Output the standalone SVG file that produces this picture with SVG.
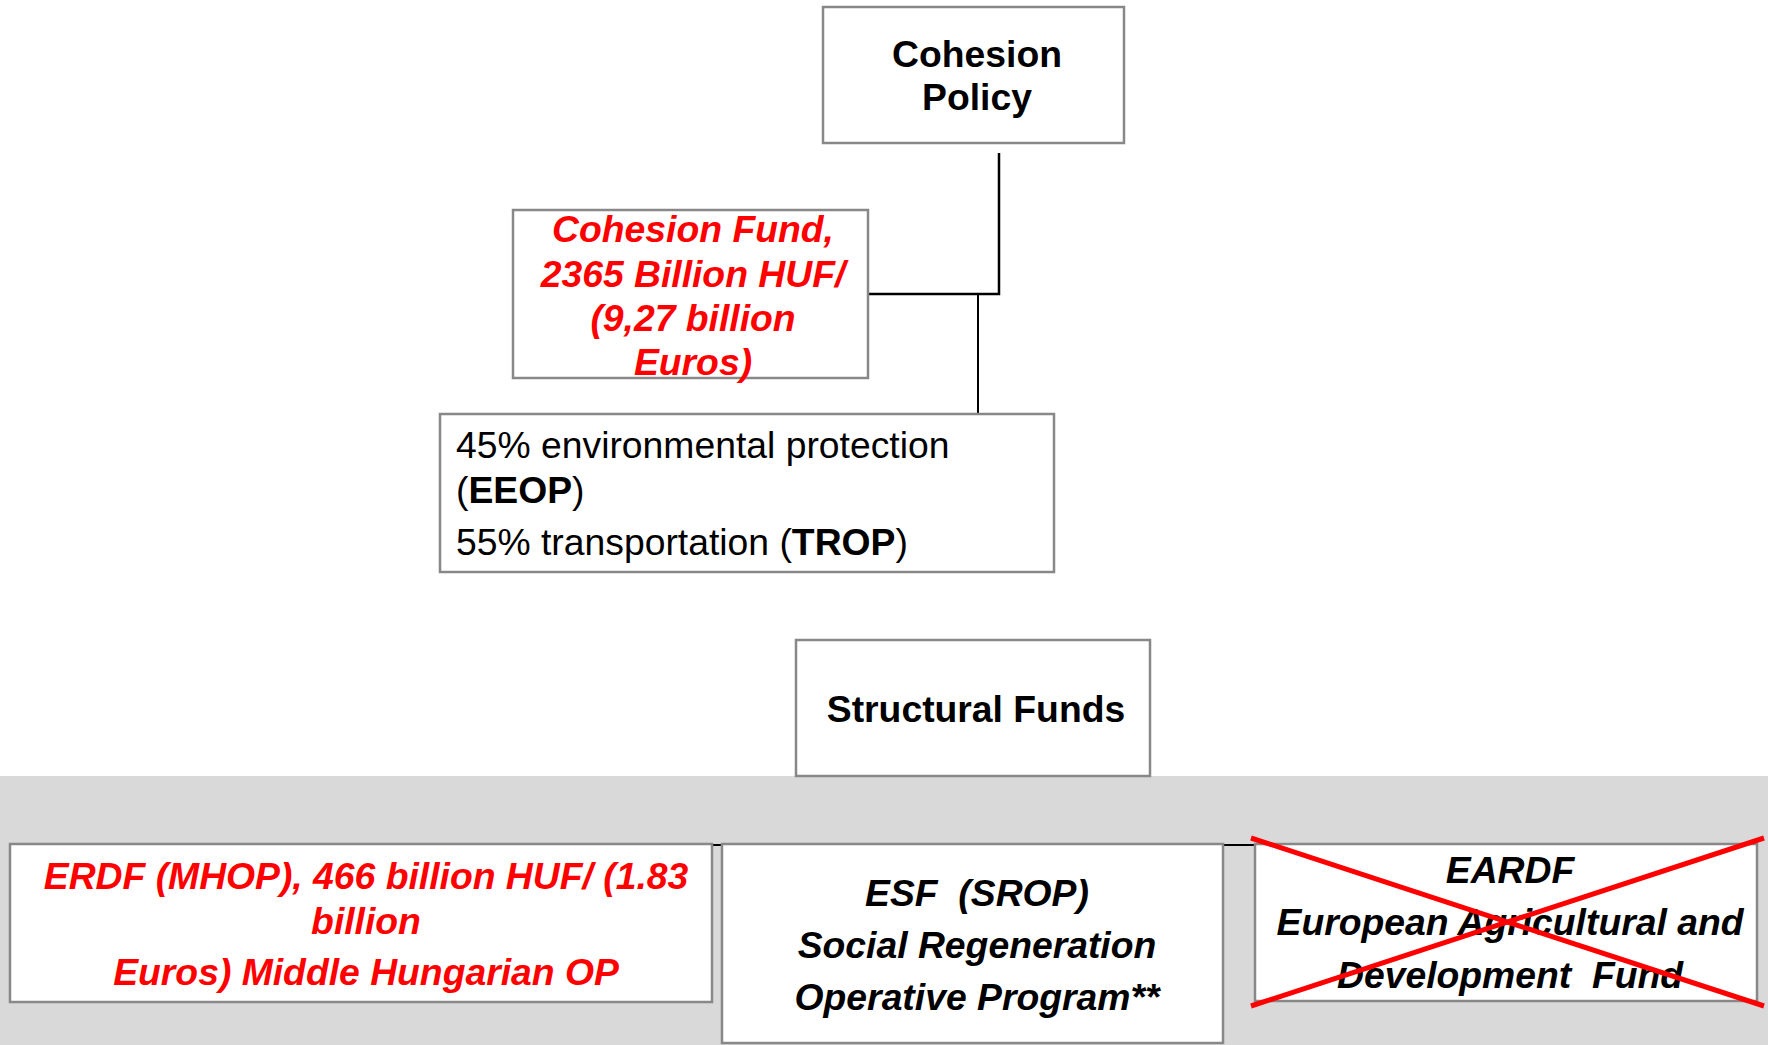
<svg xmlns="http://www.w3.org/2000/svg" width="1768" height="1045" viewBox="0 0 1768 1045">
<style>
.box{fill:#fff;stroke:#888;stroke-width:2.5}
.conn{stroke:#000;fill:none}
.t{font-family:"Liberation Sans",Arial,sans-serif;font-size:37.3px}
.b{font-weight:bold}
.bi{font-weight:bold;font-style:italic}
.red{fill:#ff0000}
.blk{fill:#000}
.mid{text-anchor:middle}
</style>
<rect x="0" y="776" width="1768" height="269" fill="#d9d9d9"/>
<g id="connectors">
<polyline class="conn" stroke-width="2.5" points="999,153 999,294 868,294"/>
<line class="conn" stroke-width="2" x1="978" y1="294" x2="978" y2="414"/>
<line class="conn" stroke-width="2" x1="361" y1="845" x2="1506" y2="845"/>
</g>
<g id="cohesion-policy">
<rect class="box" x="823" y="7" width="301" height="136"/>
<text class="t b mid blk" x="977" y="67">Cohesion</text>
<text class="t b mid blk" x="977" y="110">Policy</text>
</g>
<g id="cohesion-fund">
<rect class="box" x="513" y="210" width="355" height="168"/>
<text class="t bi mid red" x="693" y="242">Cohesion Fund,</text>
<text class="t bi mid red" x="693" y="287">2365 Billion HUF/</text>
<text class="t bi mid red" x="693" y="331">(9,27 billion</text>
<text class="t bi mid red" x="693" y="375">Euros)</text>
</g>
<g id="allocation">
<rect class="box" x="440" y="414" width="614" height="158"/>
<text class="t blk" x="456" y="458">45% environmental protection</text>
<text class="t blk" x="456" y="503">(<tspan class="b">EEOP</tspan>)</text>
<text class="t blk" x="456" y="555">55% transportation (<tspan class="b">TROP</tspan>)</text>
</g>
<g id="structural-funds">
<rect class="box" x="796" y="640" width="354" height="136"/>
<text class="t b mid blk" x="976" y="722">Structural Funds</text>
</g>
<g id="erdf">
<rect class="box" x="10" y="844" width="702" height="158"/>
<text class="t bi mid red" x="366" y="889">ERDF (MHOP), 466 billion HUF/ (1.83</text>
<text class="t bi mid red" x="366" y="934">billion</text>
<text class="t bi mid red" x="366" y="985">Euros) Middle Hungarian OP</text>
</g>
<g id="esf">
<rect class="box" x="722" y="844" width="501" height="199"/>
<text class="t bi mid blk" x="977" y="906" xml:space="preserve">ESF  (SROP)</text>
<text class="t bi mid blk" x="977" y="958">Social Regeneration</text>
<text class="t bi mid blk" x="977" y="1010">Operative Program**</text>
</g>
<g id="eardf">
<rect class="box" x="1255" y="844" width="502" height="157"/>
<text class="t bi mid blk" x="1510" y="883">EARDF</text>
<text class="t bi mid blk" x="1510" y="935">European Agricultural and</text>
<text class="t bi mid blk" x="1510" y="988" xml:space="preserve">Development  Fund</text>
<line x1="1251" y1="838" x2="1764" y2="1006" stroke="#ff0000" stroke-width="5"/>
<line x1="1251" y1="1006" x2="1764" y2="838" stroke="#ff0000" stroke-width="5"/>
</g>
</svg>
